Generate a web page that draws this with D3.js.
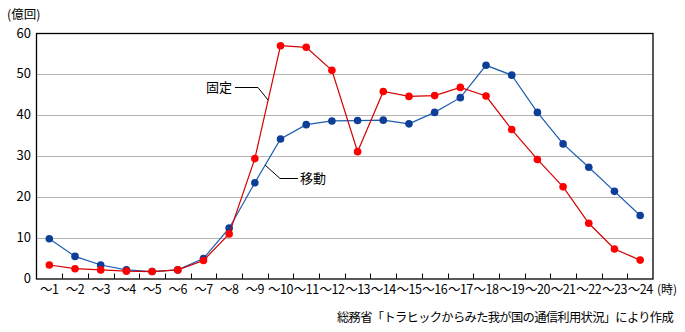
<!DOCTYPE html>
<html>
<head>
<meta charset="utf-8">
<script src="https://cdn.jsdelivr.net/npm/d3@7"></script>
<style>
  body { margin: 0; background: #fff; }
  text { font-family: "Noto Sans CJK JP", "DejaVu Sans", sans-serif; font-size: 12px; fill: #000; }
</style>
</head>
<body>
<div id="graph"></div>
<script>
const hours = ["～1","～2","～3","～4","～5","～6","～7","～8","～9","～10","～11","～12",
  "～13","～14","～15","～16","～17","～18","～19","～20","～21","～22","～23","～24"];
const mobile = [9.7, 5.4, 3.3, 2.1, 1.7, 2.1, 4.9, 12.3, 23.4, 34.1, 37.6, 38.5,
  38.6, 38.7, 37.8, 40.6, 44.2, 52.1, 49.7, 40.6, 32.9, 27.2, 21.3, 15.4];
const fixed = [3.3, 2.4, 2.1, 1.8, 1.7, 2.1, 4.4, 10.9, 29.3, 56.9, 56.5, 50.9,
  31.0, 45.7, 44.5, 44.7, 46.7, 44.6, 36.4, 29.1, 22.4, 13.5, 7.2, 4.5];
const yTicks = [0, 10, 20, 30, 40, 50, 60];

const width = 685, height = 332;
const margin = {top: 33, right: 32, bottom: 53.5, left: 36.5};
const innerW = width - margin.left - margin.right;
const innerH = height - margin.top - margin.bottom;

const svg = d3.select("#graph").append("svg")
  .attr("width", width).attr("height", height);

const x = d3.scaleBand().domain(hours).range([margin.left, margin.left + innerW]);
const y = d3.scaleLinear().domain([0, 60]).range([margin.top + innerH, margin.top]);

// grid
svg.append("g").selectAll("line")
  .data(yTicks.filter(d => d > 0 && d < 60))
  .enter().append("line")
  .attr("x1", margin.left).attr("x2", margin.left + innerW)
  .attr("y1", d => Math.round(y(d)) + 0.5).attr("y2", d => Math.round(y(d)) + 0.5)
  .attr("stroke", "#b4b4b4").attr("stroke-width", 1.2);

// y labels
svg.append("g").selectAll("text")
  .data(yTicks)
  .enter().append("text")
  .attr("x", 31).attr("y", d => y(d) + 4.5)
  .attr("text-anchor", "end")
  .style("font-size", "13px")
  .text(d => d);

svg.append("text").attr("x", 7).attr("y", 19).style("font-size", "12.5px").text("(億回)");

// x ticks (inward, at category boundaries)
svg.append("g").selectAll("line")
  .data(hours.slice(0, -1))
  .enter().append("line")
  .attr("x1", d => Math.round(x(d) + x.bandwidth()) + 0.5)
  .attr("x2", d => Math.round(x(d) + x.bandwidth()) + 0.5)
  .attr("y1", y(0)).attr("y2", y(0) - 5)
  .attr("stroke", "#000");

svg.append("g").selectAll("text")
  .data(hours)
  .enter().append("text")
  .attr("x", d => x(d) + x.bandwidth() / 2)
  .attr("y", y(0) + 15)
  .attr("text-anchor", "middle")
  .style("font-size", "12.5px")
  .style("letter-spacing", "-0.5px")
  .text(d => d);

svg.append("text").attr("x", 657).attr("y", y(0) + 15).style("font-size", "12px").text("(時)");

// frame
svg.append("rect")
  .attr("x", margin.left).attr("y", margin.top + 0.5)
  .attr("width", innerW).attr("height", innerH)
  .attr("fill", "none").attr("stroke", "#000").attr("stroke-width", 1.3);

const cx = d => x(d) + x.bandwidth() / 2;

function series(vals, lineColor, dotColor) {
  const line = d3.line().x((d, i) => cx(hours[i])).y(d => y(d));
  svg.append("path").datum(vals)
    .attr("d", line).attr("fill", "none")
    .attr("stroke", lineColor).attr("stroke-width", 1.2);
  svg.append("g").selectAll("circle")
    .data(vals)
    .enter().append("circle")
    .attr("cx", (d, i) => cx(hours[i])).attr("cy", d => y(d))
    .attr("r", 3.8).attr("fill", dotColor);
}

series(mobile, "#1a5cb0", "#0e3f98");
series(fixed, "#d40000", "#ff0000");

// labels with leader lines
const lead = svg.append("g").attr("fill", "none").attr("stroke", "#000").attr("stroke-width", 1);
lead.append("polyline").attr("points", "235,87.5 258,87.5 268,100");
lead.append("polyline").attr("points", "298,178.5 280,178.5 265,165");
svg.append("text").attr("x", 206).attr("y", 92).style("font-size", "13px").text("固定");
svg.append("text").attr("x", 300).attr("y", 183).style("font-size", "13px").text("移動");

svg.append("text").attr("x", 337).attr("y", 322)
  .style("font-size", "12.3px")
  .style("letter-spacing", "-0.7px")
  .text("総務省「トラヒックからみた我が国の通信利用状況」により作成");
</script>
</body>
</html>
